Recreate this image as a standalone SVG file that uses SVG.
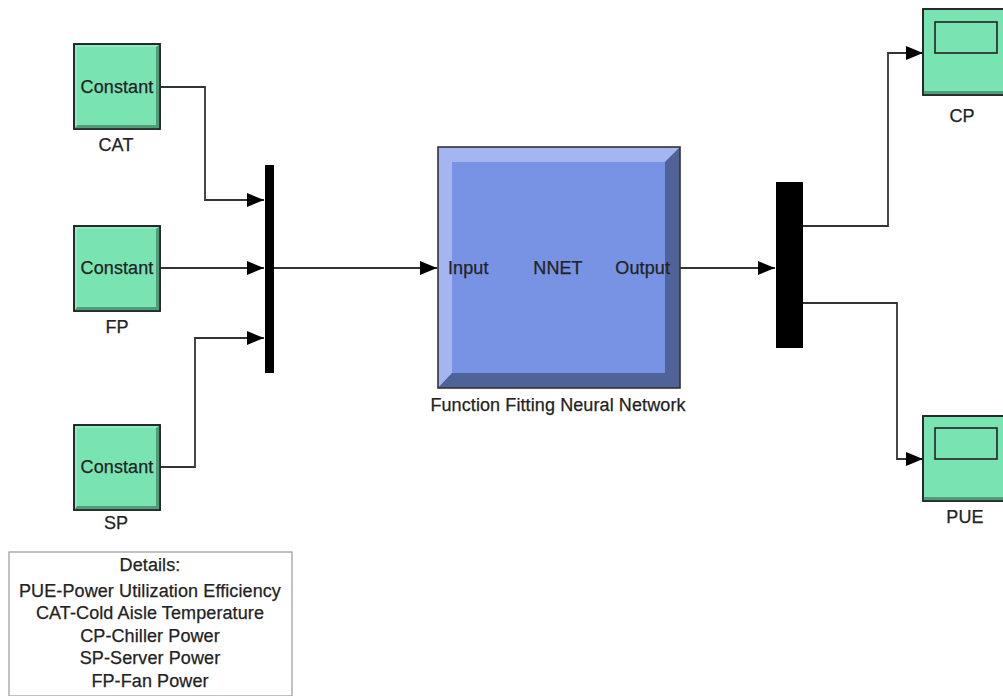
<svg xmlns="http://www.w3.org/2000/svg" width="1003" height="696" viewBox="0 0 1003 696">
  <style>
    .lbl { font-family: "Liberation Sans", Arial, sans-serif; font-size: 18px; letter-spacing: 0.1px; fill: #222; stroke: #222; stroke-width: 0.25; }
    .mid { text-anchor: middle; }
    .wire { fill: none; stroke: #333; stroke-width: 1.8; }
    .face { fill: #79e4b2; stroke: #222; stroke-width: 1.6; }
    .shade { fill: #4f9c78; }
    .hl { fill: #a0f0cc; }
    .bar { fill: #000; }
  </style>
  <defs>
    <marker id="arr" markerUnits="userSpaceOnUse" markerWidth="17" markerHeight="14" refX="17" refY="7" orient="auto">
      <path d="M0,0 L17,7 L0,14 z" fill="#000"/>
    </marker>
    <!-- bevelled green block, 86x85 -->
    <g id="gblock">
      <rect x="0" y="0" width="86" height="85" class="face"/>
      <path d="M86,0 L86,85 L0,85 L3,81 L82,81 L82,3 z" class="shade"/>
      <path d="M1,1 L85,1 L82,3 L3,3 L3,81 L1,84 z" class="hl" opacity="0.6"/>
      <rect x="0" y="0" width="86" height="85" fill="none" stroke="#222" stroke-width="1.6"/>
    </g>
  </defs>

  <rect width="1003" height="696" fill="#fff"/>

  <!-- signal lines -->
  <g id="connectors">
    <path class="wire" d="M160,87 H205 V200 H264" marker-end="url(#arr)"/>
    <path class="wire" d="M160,268 H264" marker-end="url(#arr)"/>
    <path class="wire" d="M160,467 H195 V338 H264" marker-end="url(#arr)"/>
    <path class="wire" d="M274,268 H437" marker-end="url(#arr)"/>
    <path class="wire" d="M680,268 H775" marker-end="url(#arr)"/>
    <path class="wire" d="M803,226 H888 V53 H923" marker-end="url(#arr)"/>
    <path class="wire" d="M803,303 H897 V459 H923" marker-end="url(#arr)"/>
  </g>

  <!-- constant sources -->
  <g id="cat">
    <use href="#gblock" x="74" y="44"/>
    <text class="lbl mid" x="117" y="93">Constant</text>
    <text class="lbl mid" x="116" y="151">CAT</text>
  </g>
  <g id="fp">
    <use href="#gblock" x="74" y="226"/>
    <text class="lbl mid" x="117" y="274">Constant</text>
    <text class="lbl mid" x="117" y="333">FP</text>
  </g>
  <g id="sp">
    <use href="#gblock" x="74" y="425"/>
    <text class="lbl mid" x="117" y="473">Constant</text>
    <text class="lbl mid" x="116" y="529">SP</text>
  </g>

  <!-- mux -->
  <g id="mux">
    <rect class="bar" x="265" y="165" width="9" height="208"/>
  </g>

  <!-- neural network block -->
  <g id="nnet">
    <rect x="438" y="147" width="242" height="241" fill="#7893e3"/>
    <path d="M438,147 L680,147 L665,162 L452,162 L452,373 L438,388 z" fill="#a4b5ef"/>
    <path d="M680,147 L680,388 L438,388 L452,373 L665,373 L665,162 z" fill="#4f6399"/>
    <rect x="438" y="147" width="242" height="241" fill="none" stroke="#333" stroke-width="1.6"/>
    <text class="lbl" x="448" y="274">Input</text>
    <text class="lbl mid" x="558" y="274">NNET</text>
    <text class="lbl" x="670" y="274" text-anchor="end">Output</text>
    <text class="lbl mid" x="558" y="411">Function Fitting Neural Network</text>
  </g>

  <!-- demux -->
  <g id="demux">
    <rect class="bar" x="776" y="182" width="27" height="166"/>
  </g>

  <!-- scopes -->
  <g id="cp">
    <rect x="923" y="9" width="95" height="86" class="face"/>
    <rect x="923" y="91" width="95" height="4" class="shade"/>
    <rect x="923" y="9" width="95" height="86" fill="none" stroke="#222" stroke-width="1.6"/>
    <rect x="935" y="22" width="62" height="31" fill="#79e4b2" stroke="#222" stroke-width="1.6"/>
    <text class="lbl mid" x="962" y="122">CP</text>
  </g>
  <g id="pue">
    <rect x="923" y="416" width="95" height="85" class="face"/>
    <rect x="923" y="497" width="95" height="4" class="shade"/>
    <rect x="923" y="416" width="95" height="85" fill="none" stroke="#222" stroke-width="1.6"/>
    <rect x="935" y="428" width="62" height="31" fill="#79e4b2" stroke="#222" stroke-width="1.6"/>
    <text class="lbl mid" x="965" y="523">PUE</text>
  </g>

  <!-- legend -->
  <g id="details">
    <rect x="9" y="552" width="283" height="144" fill="#fff" stroke="#999" stroke-width="1.2"/>
    <text class="lbl mid" x="150" y="571">Details:</text>
    <text class="lbl mid" x="150" y="597">PUE-Power Utilization Efficiency</text>
    <text class="lbl mid" x="150" y="619">CAT-Cold Aisle Temperature</text>
    <text class="lbl mid" x="150" y="642">CP-Chiller Power</text>
    <text class="lbl mid" x="150" y="664">SP-Server Power</text>
    <text class="lbl mid" x="150" y="687">FP-Fan Power</text>
  </g>
</svg>
